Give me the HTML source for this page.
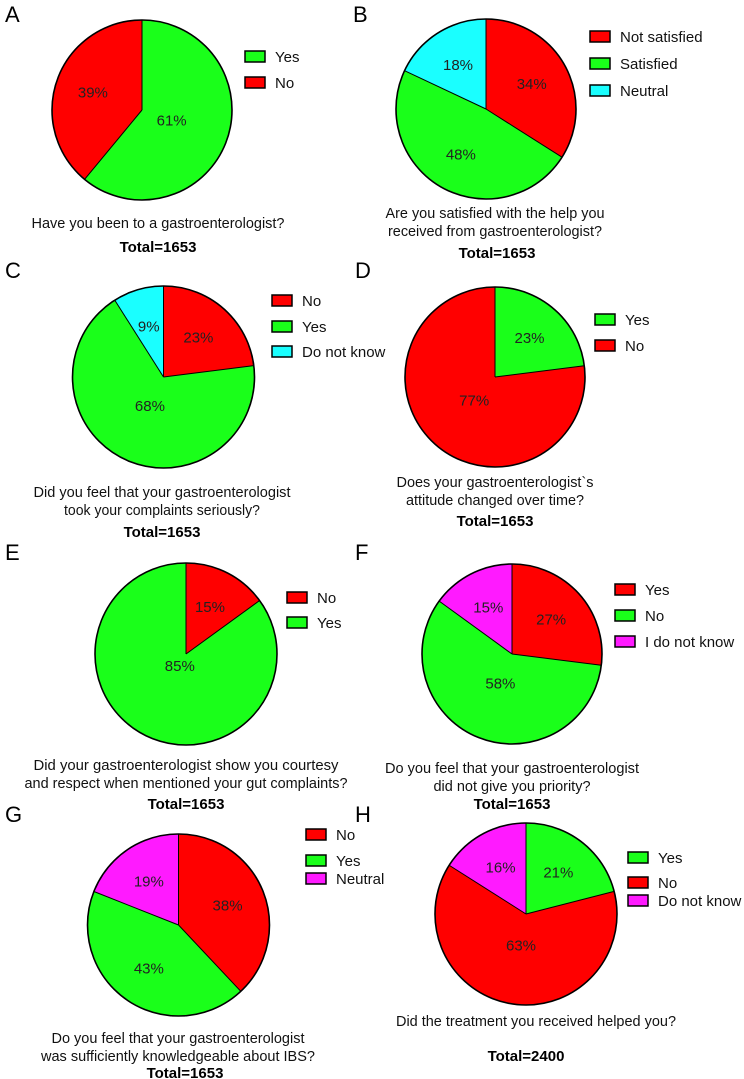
<!DOCTYPE html>
<html><head><meta charset="utf-8">
<style>
html,body{margin:0;padding:0;background:#fff;}
svg{display:block;font-family:"Liberation Sans",Arial,sans-serif;}
</style></head>
<body>
<svg id="fig" width="744" height="1079" viewBox="0 0 744 1079" xmlns="http://www.w3.org/2000/svg"></svg>
<script>
// ---- data ----
const catsA = ['Yes','No'];
const valsA = [61,39];
const catsB = ['Not satisfied','Satisfied','Neutral'];
const valsB = [34,48,18];
const catsC = ['No','Yes','Do not know'];
const valsC = [23,68,9];
const catsD = ['Yes','No'];
const valsD = [23,77];
const catsE = ['No','Yes'];
const valsE = [15,85];
const catsF = ['Yes','No','I do not know'];
const valsF = [27,58,15];
const catsG = ['No','Yes','Neutral'];
const valsG = [38,43,19];
const catsH = ['Yes','No','Do not know'];
const valsH = [21,63,16];
const totals = ['Total=1653','Total=1653','Total=1653','Total=1653','Total=1653','Total=1653','Total=1653','Total=2400'];

const COL = {red:'#ff0000', green:'#1aff1a', cyan:'#1affff', mag:'#ff1aff'};
const colorsA=[COL.green,COL.red], colorsB=[COL.red,COL.green,COL.cyan], colorsC=[COL.red,COL.green,COL.cyan],
      colorsD=[COL.green,COL.red], colorsE=[COL.red,COL.green], colorsF=[COL.red,COL.green,COL.mag],
      colorsG=[COL.red,COL.green,COL.mag], colorsH=[COL.green,COL.red,COL.mag];

// ---- layout ----
const panels = [
 {id:'a',letter:'A',lx:5,ly:22,cats:catsA,vals:valsA,cols:colorsA,cx:142,cy:110,r:90,legX:245,legY:[56,82],
  q:[['Have you been to a gastroenterologist?',158,228,253]],tot:[158,252]},
 {id:'b',letter:'B',lx:353,ly:22,cats:catsB,vals:valsB,cols:colorsB,cx:486,cy:109,r:90,legX:590,legY:[36,63,90],
  q:[['Are you satisfied with the help you',495,218,219],['received from gastroenterologist?',495,236,214]],tot:[497,258]},
 {id:'c',letter:'C',lx:5,ly:278,cats:catsC,vals:valsC,cols:colorsC,cx:163.5,cy:377,r:91,legX:272,legY:[300,326,351],
  q:[['Did you feel that your gastroenterologist',162,497,257],['took your complaints seriously?',162,515,196]],tot:[162,537]},
 {id:'d',letter:'D',lx:355,ly:278,cats:catsD,vals:valsD,cols:colorsD,cx:495,cy:377,r:90,legX:595,legY:[319,345],
  q:[['Does your gastroenterologist`s',495,487,197],['attitude changed over time?',495,505,178]],tot:[495,526]},
 {id:'e',letter:'E',lx:5,ly:560,cats:catsE,vals:valsE,cols:colorsE,cx:186,cy:654,r:91,legX:287,legY:[597,622],
  q:[['Did your gastroenterologist show you courtesy',186,770,305],['and respect when mentioned your gut complaints?',186,788,323]],tot:[186,809]},
 {id:'f',letter:'F',lx:355,ly:560,cats:catsF,vals:valsF,cols:colorsF,cx:512,cy:654,r:90,legX:615,legY:[589,615,641],
  q:[['Do you feel that your gastroenterologist',512,773,254],['did not give you priority?',512,791,157]],tot:[512,809]},
 {id:'g',letter:'G',lx:5,ly:822,cats:catsG,vals:valsG,cols:colorsG,cx:178.5,cy:925,r:91,legX:306,legY:[834,860,878],
  q:[['Do you feel that your gastroenterologist',178,1043,253],['was sufficiently knowledgeable about IBS?',178,1061,274]],tot:[185,1078]},
 {id:'h',letter:'H',lx:355,ly:822,cats:catsH,vals:valsH,cols:colorsH,cx:526,cy:914,r:91,legX:628,legY:[857,882,900],
  q:[['Did the treatment you received helped you?',536,1026,280]],tot:[526,1061]}
];

const NS='http://www.w3.org/2000/svg';
const svg=document.getElementById('fig');
function mk(tag,attrs,parent){const e=document.createElementNS(NS,tag);for(const k in attrs)e.setAttribute(k,attrs[k]);(parent||svg).appendChild(e);return e;}
function pt(cx,cy,r,frac){const a=frac*2*Math.PI;return [cx+r*Math.sin(a),cy-r*Math.cos(a)];}

panels.forEach((p,pi)=>{
  const g=mk('g',{});
  
  
  const L=mk('text',{x:p.lx,y:p.ly,'font-size':22,fill:'#000'},g);
  L.textContent=p.letter;
  
  
  const total=p.vals.reduce((a,b)=>a+b,0);
  let acc=0;
  p.vals.forEach((v,i)=>{
    const f0=acc/total, f1=(acc+v)/total; acc+=v;
    const [x0,y0]=pt(p.cx,p.cy,p.r,f0),[x1,y1]=pt(p.cx,p.cy,p.r,f1);
    const large=(f1-f0)>0.5?1:0;
    const s=mk('path',{d:`M${p.cx},${p.cy} L${x0},${y0} A${p.r},${p.r} 0 ${large} 1 ${x1},${y1} Z`,fill:p.cols[i],stroke:'none'},g);
    
    
    const frac=f1-f0;
    const rr = frac>0.8 ? 0.15 : (frac>0.55 ? 0.35 : 0.58);
    const [lx,ly]=pt(p.cx,p.cy,p.r*rr,(f0+f1)/2);
    const t=mk('text',{x:lx,y:ly+5,'font-size':15,'text-anchor':'middle',fill:'#222'},g);
    t.textContent=v+'%';
    
    
  });
  acc=0;
  p.vals.forEach(v=>{const [x,y]=pt(p.cx,p.cy,p.r,acc/total);acc+=v;mk('line',{x1:p.cx,y1:p.cy,x2:x,y2:y,stroke:'#000','stroke-width':1},g);});
  mk('circle',{cx:p.cx,cy:p.cy,r:p.r,fill:'none',stroke:'#000','stroke-width':1.6},g);
  p.cats.forEach((c,i)=>{
    const y=p.legY[i];
    const lg=mk('g',{},g);
    
    
    mk('rect',{x:p.legX,y:y-5,width:20,height:11,fill:p.cols[i],stroke:'#000','stroke-width':1.5},lg);
    const t=mk('text',{x:p.legX+30,y:y+6,'font-size':15,fill:'#111'},lg);
    t.textContent=c;
  });
  p.q.forEach((q,i)=>{
    const t=mk('text',{x:q[1],y:q[2],'font-size':15,'text-anchor':'middle',fill:'#111',textLength:q[3],lengthAdjust:'spacingAndGlyphs'},g);
    t.textContent=q[0];
    
    
  });
  const tt=mk('text',{x:p.tot[0],y:p.tot[1],'font-size':15,'font-weight':'bold','text-anchor':'middle',fill:'#000'},g);
  tt.textContent=totals[pi];
  
  
});
</script>
</body></html>
